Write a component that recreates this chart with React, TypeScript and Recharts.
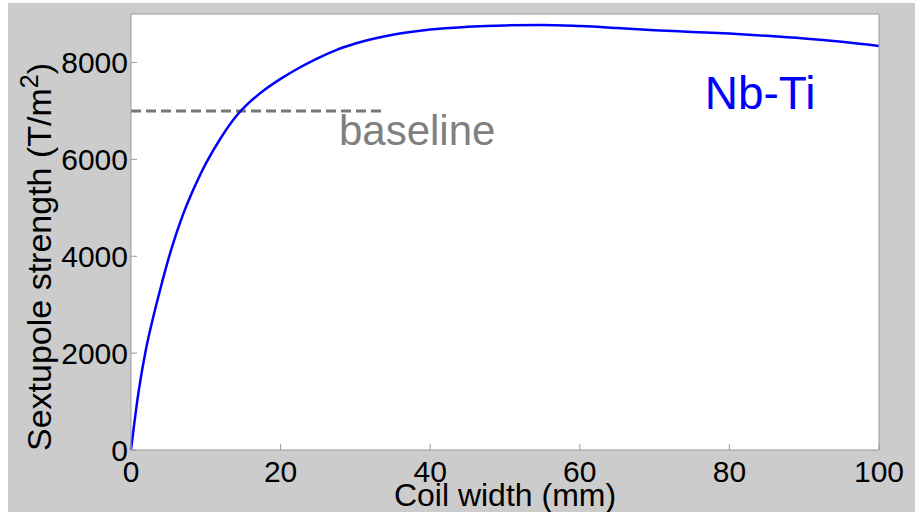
import {
  LineChart,
  Line,
  XAxis,
  YAxis,
  CartesianGrid,
  ReferenceLine,
  ReferenceDot,
} from 'recharts';

// Coil width (mm) vs sextupole strength (T/m^2)
const coilWidth = [0, 1, 2, 3, 4, 5, 6, 7, 8, 9, 10, 12, 14, 16, 18, 20, 22.5, 25, 27.5, 30, 35, 40, 45, 50, 55, 60, 65, 70, 75, 80, 85, 90, 95, 100];
const sextupole = [0, 1190, 2080, 2760, 3370, 3940, 4440, 4880, 5260, 5600, 5910, 6440, 6880, 7200, 7450, 7660, 7890, 8090, 8260, 8390, 8570, 8680, 8735, 8765, 8774, 8750, 8710, 8665, 8630, 8595, 8550, 8495, 8425, 8340];

const xTicks = [0, 20, 40, 60, 80, 100];
const yTicks = [0, 2000, 4000, 6000, 8000];

const baselineValue = 7000;
const baselineEnd = 33.6;

// annotation anchors (data units)
const nbTiPos = { x: 76.7, y: 7040, text: 'Nb-Ti' };
const baselineLabelPos = { x: 27.8, y: 6300, text: 'baseline' };

const FONT = '"Liberation Sans", Arial, sans-serif';
const FRAME = '#9a9a9a';

const data = coilWidth.map((w, i) => ({ w, s: sextupole[i] }));

const tickStyle = { fill: '#000', fontSize: 30, fontFamily: FONT };

export default function App() {
  return (
    <div
      style={{
        position: 'absolute',
        left: 8,
        top: 3,
        width: 907,
        height: 509,
        background: '#cccccc',
      }}
    >
      <LineChart
        width={907}
        height={509}
        data={data}
        margin={{ top: 10, right: 35, bottom: 1, left: 0 }}
      >
        <CartesianGrid fill="#ffffff" horizontal={false} vertical={false} />
        <XAxis
          dataKey="w"
          type="number"
          domain={[0, 100]}
          ticks={xTicks}
          height={61}
          tickSize={-6}
          tickMargin={17}
          stroke={FRAME}
          tick={tickStyle}
          label={{
            content: ({ viewBox }: any) => (
              <text
                x={viewBox.x + viewBox.width / 2}
                y={viewBox.y + 56}
                textAnchor="middle"
                fontSize={32}
                fontFamily={FONT}
                fill="#000"
              >
                Coil width (mm)
              </text>
            ),
          }}
        />
        <XAxis
          xAxisId="top"
          orientation="top"
          dataKey="w"
          type="number"
          domain={[0, 100]}
          ticks={xTicks}
          height={1}
          tickSize={-6}
          stroke={FRAME}
          tick={false}
        />
        <YAxis
          type="number"
          domain={[0, 9000]}
          ticks={yTicks}
          width={123}
          tickSize={-6}
          tickMargin={9}
          stroke={FRAME}
          tick={tickStyle}
          label={{
            content: ({ viewBox }: any) => {
              const cx = 43;
              const cy = viewBox.y + viewBox.height / 2 + 25;
              return (
                <text
                  x={cx}
                  y={cy}
                  transform={`rotate(-90, ${cx}, ${cy})`}
                  textAnchor="middle"
                  fontSize={34}
                  fontFamily={FONT}
                  fill="#000"
                >
                  Sextupole strength (T/m
                  <tspan dy={-13} fontSize={25}>2</tspan>
                  <tspan dy={13}>)</tspan>
                </text>
              );
            },
          }}
        />
        <YAxis
          yAxisId="right"
          orientation="right"
          type="number"
          domain={[0, 9000]}
          ticks={yTicks}
          width={1}
          tickSize={-6}
          stroke={FRAME}
          tick={false}
        />
        <ReferenceLine
          segment={[
            { x: 0, y: baselineValue },
            { x: baselineEnd, y: baselineValue },
          ]}
          stroke="#777777"
          strokeWidth={3}
          strokeDasharray="10 5"
        />
        <Line
          dataKey="s"
          type="monotone"
          stroke="#0000ff"
          strokeWidth={2.5}
          dot={false}
          isAnimationActive={false}
        />
        <ReferenceDot
          x={nbTiPos.x}
          y={nbTiPos.y}
          r={0}
          fill="none"
          stroke="none"
          label={{
            content: ({ viewBox }: any) => (
              <text x={viewBox.x} y={viewBox.y} fontSize={46} fontFamily={FONT} fill="#0000ff">
                {nbTiPos.text}
              </text>
            ),
          }}
        />
        <ReferenceDot
          x={baselineLabelPos.x}
          y={baselineLabelPos.y}
          r={0}
          fill="none"
          stroke="none"
          label={{
            content: ({ viewBox }: any) => (
              <text x={viewBox.x} y={viewBox.y} fontSize={42} fontFamily={FONT} fill="#808080">
                {baselineLabelPos.text}
              </text>
            ),
          }}
        />
      </LineChart>
    </div>
  );
}
